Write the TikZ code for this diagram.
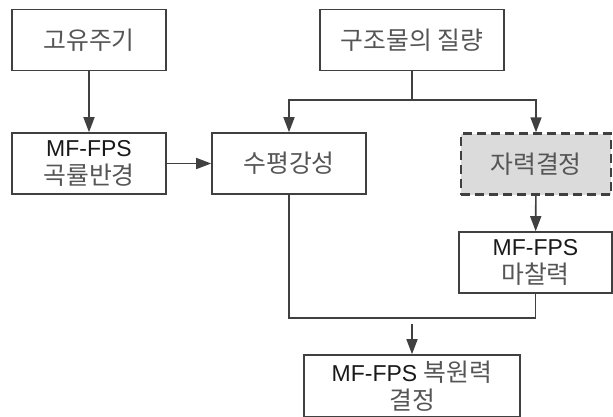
\documentclass[tikz,border=0pt]{standalone}
\usepackage{fontspec}
\setmainfont{Liberation Sans}
\newfontfamily\krfont[Scale=1.08,Color=555555]{Noto Sans CJK KR}
\usepackage{tikz}
\usetikzlibrary{positioning,calc,arrows.meta}
\definecolor{boxline}{rgb}{0.25, 0.25, 0.25}
\definecolor{selfgray}{rgb}{0.86, 0.86, 0.86}

\begin{document}
\begin{tikzpicture}[x=1pt,y=-1pt,>={Triangle[length=15pt,width=11pt]},
                line width=1.6pt,draw=boxline,
                main box/.style={rectangle,draw=boxline,line width=1.6pt,minimum height=61pt,
                  inner sep=0pt,align=center,text=black!90,
                  font=\fontsize{23}{28}\selectfont},
                dash box/.style={main box,fill=selfgray,dash pattern=on 9pt off 5pt,line width=2.4pt}]
\useasboundingbox (0,0) rectangle (613,416);
%Nodes
    \node[main box, minimum width=154pt] (period) at (89,40) {\krfont 고유주기};
    \node[main box, minimum width=184pt] (mass) at (412,40) {\krfont 구조물의 질량};
    \node[main box, minimum width=154pt] (radius) at (89,163.5) {MF-FPS\\{\krfont 곡률반경}};
    \node[main box, minimum width=154pt] (stiff) at (289,163.5) {\krfont 수평강성};
    \node[dash box, minimum width=150pt] (selfw) at (536,164) {\krfont 자력결정};
    \node[main box, minimum width=153pt] (fric) at (535.5,262.5) {MF-FPS\\{\krfont 마찰력}};
    \node[main box, minimum width=216pt, minimum height=62pt] (restore) at (412,386) {MF-FPS {\krfont 복원력}\\{\krfont 결정}};
    \coordinate (split) at (412,100);
    \coordinate (merge) at (412,318);
    \coordinate (mergeout) at (412,324);

    \path[->] (period) edge (radius);
    \path[->] (radius) edge (stiff);
    \path[->] (selfw) edge (fric);
    \draw (mass) -- (split);
    \draw[->] (split) -| (stiff.north);
    \draw[->] (split) -| (selfw.north);
    \draw (stiff.south) |- (merge) -| (fric.south);
    \path[->] (mergeout) edge (restore.north);
\end{tikzpicture}
\end{document}
